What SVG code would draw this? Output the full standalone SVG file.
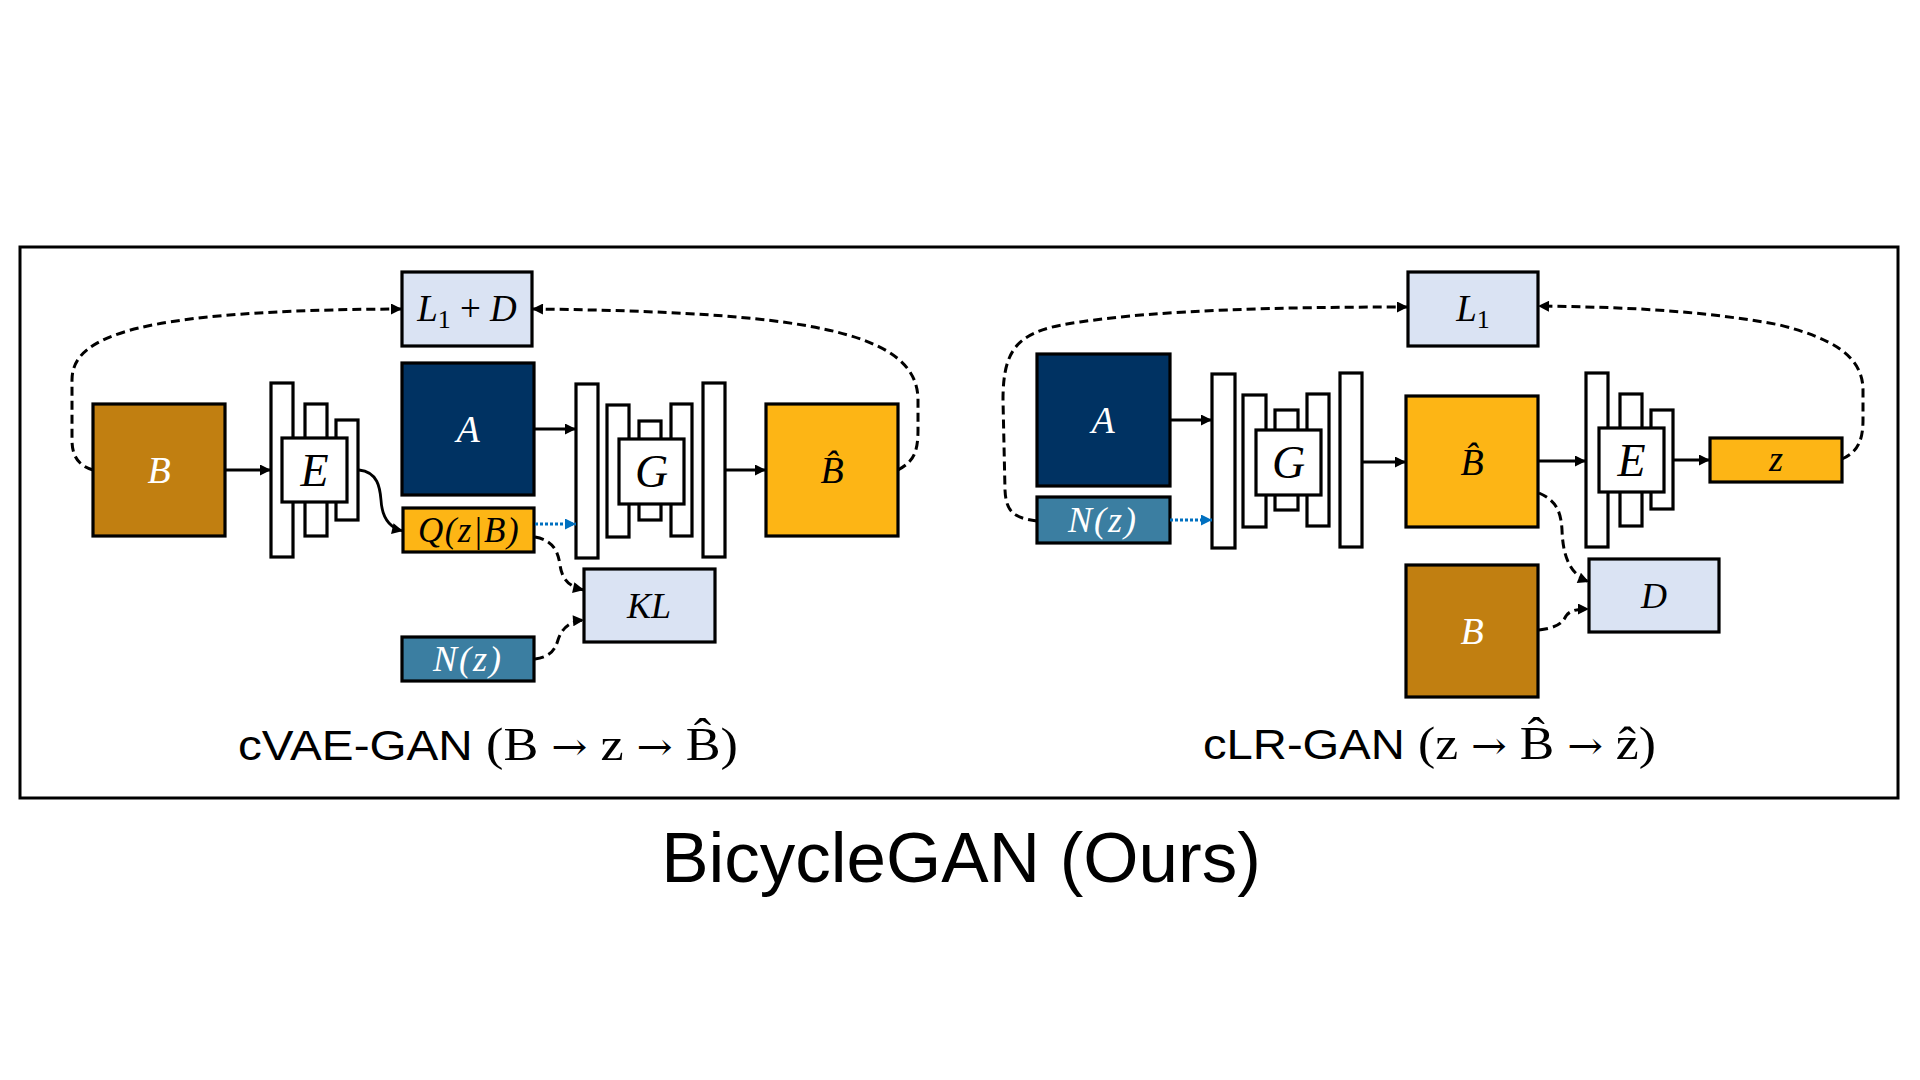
<svg xmlns="http://www.w3.org/2000/svg" width="1920" height="1080" viewBox="0 0 1920 1080">
<defs>
<marker id="ah" viewBox="0 0 10 10" refX="10" refY="5" markerWidth="13" markerHeight="11" markerUnits="userSpaceOnUse" orient="auto"><path d="M0,0 L10,5 L0,10 z" fill="#000"/></marker>
<marker id="ahb" viewBox="0 0 10 10" refX="10" refY="5" markerWidth="13" markerHeight="11" markerUnits="userSpaceOnUse" orient="auto"><path d="M0,0 L10,5 L0,10 z" fill="#0070C0"/></marker>
<style>
.box{stroke:#000;stroke-width:3.2}
.bar{fill:#fff;stroke:#000;stroke-width:3.2}
.gold{fill:#C17F11}
.orange{fill:#FDB515}
.navy{fill:#003262}
.teal{fill:#3B7EA1}
.loss{fill:#DAE3F3}
.lbl{font-family:"Liberation Serif",serif;font-style:italic;text-anchor:middle}
.sans{font-family:"Liberation Sans",Arial,sans-serif}
.serif{font-family:"Liberation Serif",serif}
.arr{font-family:"DejaVu Serif",serif}
.solid{fill:none;stroke:#000;stroke-width:2.8;marker-end:url(#ah)}
.dash{fill:none;stroke:#000;stroke-width:3;stroke-dasharray:9 5;marker-end:url(#ah)}
.dot{fill:none;stroke:#0070C0;stroke-width:3.2;stroke-dasharray:3 2;marker-end:url(#ahb)}
</style>
</defs>
<rect x="20" y="247" width="1878" height="551" fill="none" stroke="#000" stroke-width="3"/>

<!-- Left panel: cVAE-GAN -->
<g id="L_B"><rect class="box gold" x="93" y="404" width="132" height="132"/><text class="lbl" x="159" y="483" font-size="38" fill="#fff">B</text></g>
<g id="L_E">
<rect class="bar" x="271" y="383" width="22" height="174"/>
<rect class="bar" x="305" y="404" width="22" height="132"/>
<rect class="bar" x="336" y="420" width="22" height="100"/>
<rect class="bar" x="282" y="438" width="65" height="64"/>
<text class="lbl" x="314.5" y="486" font-size="46">E</text>
</g>
<g id="L_L1D"><rect class="box loss" x="402" y="272" width="130" height="74"/><text class="lbl" x="467" y="321" font-size="37"><tspan>L</tspan><tspan font-style="normal" font-size="26" dy="7">1</tspan><tspan font-style="normal" dy="-7"> + </tspan><tspan>D</tspan></text></g>
<g id="L_A"><rect class="box navy" x="402" y="363" width="132" height="132"/><text class="lbl" x="468" y="442" font-size="38" fill="#fff">A</text></g>
<g id="L_Q"><rect class="box orange" x="403" y="508" width="131" height="44"/><text class="lbl" x="469" y="542" font-size="35" letter-spacing="1.5">Q(z|B)</text></g>
<g id="L_G">
<rect class="bar" x="576" y="384" width="22" height="174"/>
<rect class="bar" x="607" y="405" width="22" height="132"/>
<rect class="bar" x="639" y="421" width="22" height="99"/>
<rect class="bar" x="671" y="404" width="21" height="132"/>
<rect class="bar" x="703" y="383" width="22" height="174"/>
<rect class="bar" x="619" y="439" width="65" height="65"/>
<text class="lbl" x="651.5" y="487" font-size="46">G</text>
</g>
<g id="L_KL"><rect class="box loss" x="584" y="569" width="131" height="73"/><text class="lbl" x="649" y="618" font-size="36">KL</text></g>
<g id="L_N"><rect class="box teal" x="402" y="637" width="132" height="44"/><text class="lbl" x="468" y="671" font-size="36" letter-spacing="2" fill="#fff">N(z)</text></g>
<g id="L_Bhat"><rect class="box orange" x="766" y="404" width="132" height="132"/><text class="lbl" x="832" y="483" font-size="38">B̂</text></g>

<!-- Right panel: cLR-GAN -->
<g id="R_L1"><rect class="box loss" x="1408" y="272" width="130" height="74"/><text class="lbl" x="1473" y="321" font-size="37"><tspan>L</tspan><tspan font-style="normal" font-size="26" dy="7">1</tspan></text></g>
<g id="R_A"><rect class="box navy" x="1037" y="354" width="133" height="132"/><text class="lbl" x="1103" y="433" font-size="38" fill="#fff">A</text></g>
<g id="R_N"><rect class="box teal" x="1037" y="497" width="133" height="46"/><text class="lbl" x="1103" y="532" font-size="36" letter-spacing="2" fill="#fff">N(z)</text></g>
<g id="R_G">
<rect class="bar" x="1212" y="374" width="23" height="174"/>
<rect class="bar" x="1243" y="395" width="23" height="132"/>
<rect class="bar" x="1275" y="410" width="23" height="100"/>
<rect class="bar" x="1307" y="394" width="22" height="132"/>
<rect class="bar" x="1340" y="373" width="22" height="174"/>
<rect class="bar" x="1256" y="430" width="65" height="65"/>
<text class="lbl" x="1288.5" y="478" font-size="46">G</text>
</g>
<g id="R_Bhat"><rect class="box orange" x="1406" y="396" width="132" height="131"/><text class="lbl" x="1472" y="475" font-size="38">B̂</text></g>
<g id="R_E">
<rect class="bar" x="1586" y="373" width="22" height="174"/>
<rect class="bar" x="1620" y="394" width="22" height="132"/>
<rect class="bar" x="1651" y="410" width="22" height="99"/>
<rect class="bar" x="1599" y="428" width="65" height="64"/>
<text class="lbl" x="1631.5" y="476" font-size="46">E</text>
</g>
<g id="R_z"><rect class="box orange" x="1710" y="438" width="132" height="44"/><text class="lbl" x="1776" y="471" font-size="36">z</text></g>
<g id="R_D"><rect class="box loss" x="1589" y="559" width="130" height="73"/><text class="lbl" x="1654" y="608" font-size="36">D</text></g>
<g id="R_B"><rect class="box gold" x="1406" y="565" width="132" height="132"/><text class="lbl" x="1472" y="644" font-size="38" fill="#fff">B</text></g>

<g id="connectors">
<path class="solid" d="M225 470 L271 470"/>
<path class="solid" d="M534 429 L576 429"/>
<path class="solid" d="M725 470 L766 470"/>
<path class="solid" d="M359 470 C378 472 380 488 381 500 C382 518 390 528 403 531"/>
<path class="dot" d="M535 524 L576 524"/>
<path class="dash" d="M535 537 C552 540 558 550 560 565 C562 580 570 587 584 590"/>
<path class="dash" d="M535 659 C550 657 555 650 558 640 C562 628 570 621 584 620"/>
<path class="dash" d="M93 470 C80 466 72 458 72 440 L72 380 C72 335 140 310 402 309"/>
<path class="dash" d="M898 470 C912 462 918 455 918 430 L918 400 C918 330 800 312 532 309"/>

<path class="solid" d="M1170 420 L1212 420"/>
<path class="dot" d="M1170 520 L1212 520"/>
<path class="solid" d="M1362 462 L1406 462"/>
<path class="solid" d="M1538 461 L1586 461"/>
<path class="solid" d="M1673 460 L1710 460"/>
<path class="dash" d="M1037 521 C1012 518 1006 510 1005 490 L1003 400 C1003 345 1020 330 1080 322 C1160 310 1280 307 1408 307"/>
<path class="dash" d="M1842 459 C1858 452 1863 440 1863 420 L1863 390 C1863 355 1830 338 1780 325 C1700 310 1620 307 1538 306"/>
<path class="dash" d="M1539 493 C1555 500 1561 510 1562 530 C1563 560 1572 575 1589 582"/>
<path class="dash" d="M1539 630 C1555 628 1562 624 1566 616 C1570 610 1578 609 1589 609"/>
</g>

<text x="238" y="760" font-size="42" textLength="500" lengthAdjust="spacingAndGlyphs"><tspan class="sans">cVAE-GAN </tspan><tspan class="serif" font-size="46">(B <tspan class="arr" font-size="38">→</tspan> z <tspan class="arr" font-size="38">→</tspan> B̂)</tspan></text>
<text x="1203" y="759" font-size="42" textLength="453" lengthAdjust="spacingAndGlyphs"><tspan class="sans">cLR-GAN </tspan><tspan class="serif" font-size="46">(z <tspan class="arr" font-size="38">→</tspan> B̂ <tspan class="arr" font-size="38">→</tspan> ẑ)</tspan></text>
<text class="sans" x="961" y="882" font-size="71" text-anchor="middle">BicycleGAN (Ours)</text>
</svg>
